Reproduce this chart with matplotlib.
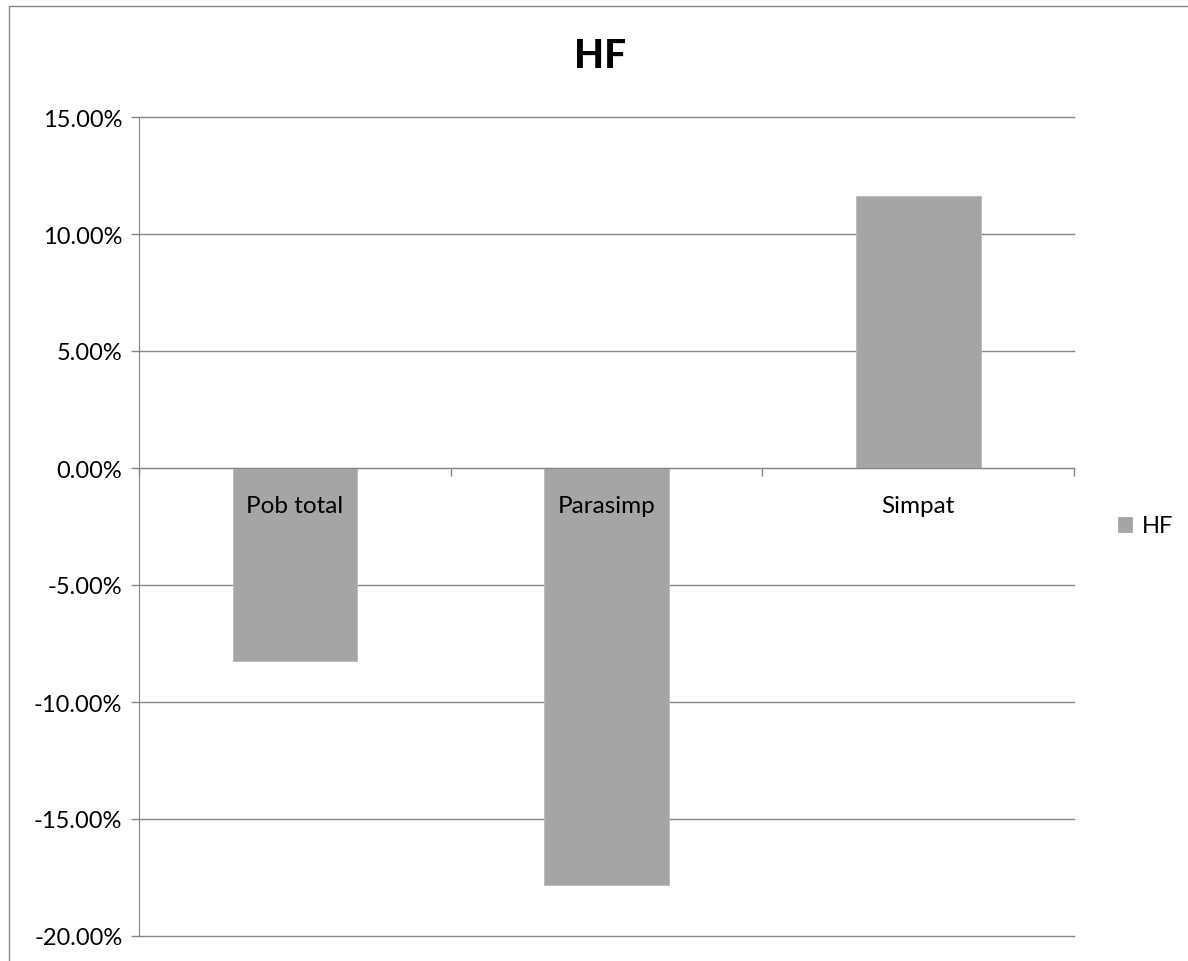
import matplotlib
matplotlib.use("Agg")
import matplotlib.pyplot as plt
from matplotlib.ticker import FuncFormatter, MultipleLocator
from matplotlib.lines import Line2D

categories = ["Pob total", "Parasimp", "Simpat"]
hf_values = [-8.26, -17.8, 11.64]
series_name = "HF"

plt.rcParams['font.family'] = ['Lato', 'DejaVu Sans']

W, H = 1188, 962
fig = plt.figure(figsize=(W / 100, H / 100), dpi=100)

# outer chart frame (left and top edges)
fig.add_artist(Line2D([8.5 / W, 8.5 / W, 1.01], [-0.01, 1 - 6.5 / H, 1 - 6.5 / H],
                      transform=fig.transFigure, color="#868686",
                      linewidth=1.0))

ax = fig.add_axes([139 / W, 25 / H, (1074 - 139) / W, (937 - 118) / H])

bar_color = "#A5A5A5"
grid_color = "#868686"
x = list(range(len(categories)))
ax.bar(x, hf_values, width=0.40, color=bar_color, edgecolor="#B8B8B8",
       linewidth=0.6, label=series_name, zorder=2)

ax.set_xlim(-0.5, len(categories) - 0.5)
ax.set_ylim(-20, 15)
ax.yaxis.set_major_locator(MultipleLocator(5))
ax.yaxis.set_major_formatter(FuncFormatter(lambda v, p: f"{v:.2f}%"))
ax.grid(axis="y", color=grid_color, linewidth=1.0, zorder=1)
ax.set_axisbelow(True)
for gl in ax.get_ygridlines():
    gl.set_clip_on(False)

for s in ["top", "right"]:
    ax.spines[s].set_visible(False)
ax.spines["left"].set_color(grid_color)
ax.spines["bottom"].set_color(grid_color)
ax.spines["bottom"].set_position(("data", 0))
ax.spines["bottom"].set_zorder(3)

# category boundary ticks on the zero line; labels drawn over the bars
ax.set_xticks([-0.5, 0.5, 1.5, 2.5])
ax.set_xticklabels([])
ax.tick_params(axis="x", length=6, direction="out", color=grid_color,
               width=1.0)
for i, name in zip(x, categories):
    ax.annotate(name, xy=(i, 0), xytext=(0, -27), textcoords="offset points",
                ha="center", va="center", fontsize=17.5, color="black",
                zorder=5)

ax.tick_params(axis="y", length=6, direction="out", color=grid_color,
               width=1.0, labelsize=17, pad=6, labelcolor="black")

fig.text(600 / W, 1 - 57 / H, "HF", ha="center", va="center",
         fontsize=28, fontweight="black")

leg = fig.legend(loc="center left", bbox_to_anchor=(1106 / W, 1 - 527 / H),
                 frameon=False, fontsize=17, handlelength=0.6,
                 handleheight=0.6, handletextpad=0.4, borderpad=0)
for h in leg.legend_handles:
    h.set_edgecolor(bar_color)

fig.savefig("out.png", dpi=100)
